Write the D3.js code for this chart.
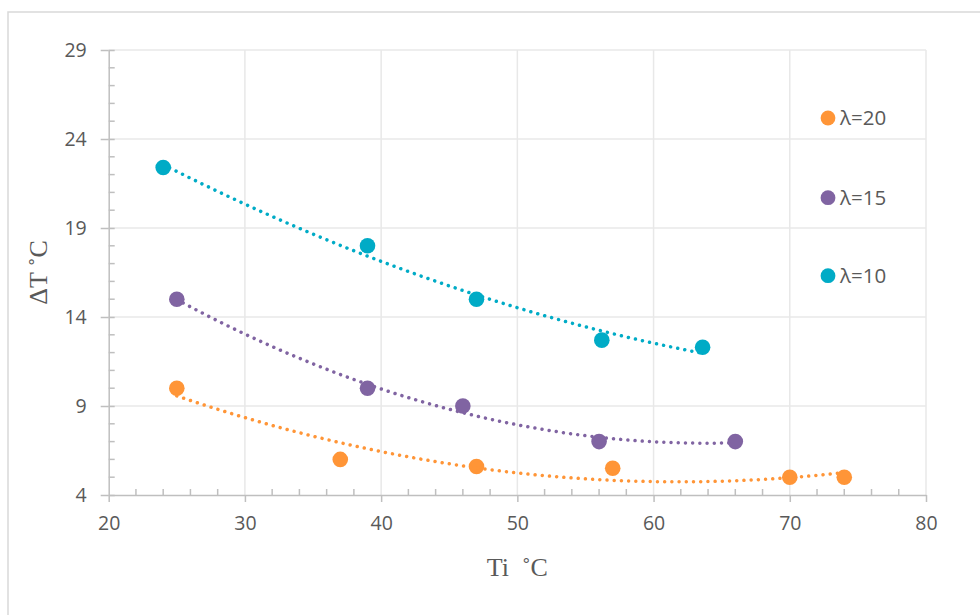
<!DOCTYPE html>
<html>
<head>
<meta charset="utf-8">
<script src="https://cdn.jsdelivr.net/npm/d3@7"></script>
<style>
  html, body { margin: 0; padding: 0; background: #fff; }
  svg { display: block; }
</style>
</head>
<body>
<svg id="chart" width="980" height="615"></svg>
<script>
// ---- Data ----
const seriesNames = ["λ=20", "λ=15", "λ=10"];
const tiL20 = [25, 37, 47, 57, 70, 74];
const dtL20 = [10, 6, 5.6, 5.5, 5, 5];
const tiL15 = [25, 39, 46, 56, 66];
const dtL15 = [15, 10, 9, 7, 7];
const tiL10 = [24, 39, 47, 56.2, 63.6];
const dtL10 = [22.4, 18, 15, 12.7, 12.3];
const xTicks = [20, 30, 40, 50, 60, 70, 80];
const yTicks = [4, 9, 14, 19, 24, 29];
const colors = ["#FF9537", "#8064A2", "#00ABC6"];

const series = [
  { name: seriesNames[0], x: tiL20, y: dtL20, color: colors[0] },
  { name: seriesNames[1], x: tiL15, y: dtL15, color: colors[1] },
  { name: seriesNames[2], x: tiL10, y: dtL10, color: colors[2] }
];

// ---- Layout ----
const svg = d3.select("#chart");
const L = 108.7, R = 926, T = 50, B = 495;
const x = d3.scaleLinear().domain([20, 80]).range([L, R]);
const y = d3.scaleLinear().domain([4, 29]).range([B, T]);

// outer frame
svg.append("rect").attr("x", 8).attr("y", 12).attr("width", 1000).attr("height", 700)
  .attr("fill", "none").attr("stroke", "#d9d9d9").attr("stroke-width", 1.5);

// gridlines
const grid = svg.append("g");
grid.selectAll("line.v").data(xTicks.slice(1)).enter().append("line")
  .attr("x1", d => x(d)).attr("x2", d => x(d)).attr("y1", T).attr("y2", B)
  .attr("stroke", "#e8e8e8").attr("stroke-width", 1.5);
grid.selectAll("line.h").data(yTicks.slice(1)).enter().append("line")
  .attr("x1", L).attr("x2", R).attr("y1", d => y(d)).attr("y2", d => y(d))
  .attr("stroke", "#e8e8e8").attr("stroke-width", 1.5);

const axisColor = "#bfbfbf";
const labelColor = "#595959";
const tickFont = "'Open Sans', sans-serif";

// x axis
const xAxisG = svg.append("g").attr("transform", `translate(0,${B})`)
  .call(d3.axisBottom(x).tickValues(xTicks).tickSize(7).tickSizeOuter(0).tickPadding(14));
const xMinor = d3.range(20, 80, 2).filter(v => v % 10 !== 0);
xAxisG.selectAll("line.minor").data(xMinor).enter().append("line")
  .attr("class", "minor").attr("x1", d => x(d)).attr("x2", d => x(d)).attr("y1", 0).attr("y2", -6);

// y axis
const yAxisG = svg.append("g").attr("transform", `translate(${L},0)`)
  .call(d3.axisLeft(y).tickValues(yTicks).tickSize(8).tickSizeOuter(0).tickPadding(14));
const yMinor = d3.range(4, 29, 1).filter(v => (v - 4) % 5 !== 0);
yAxisG.selectAll("line.minor").data(yMinor).enter().append("line")
  .attr("class", "minor").attr("x1", 0).attr("x2", 6).attr("y1", d => y(d)).attr("y2", d => y(d));
yAxisG.selectAll(".tick").append("line").attr("x1", 0).attr("x2", 6);

[xAxisG, yAxisG].forEach(g => {
  g.select(".domain").attr("stroke", axisColor).attr("stroke-width", 1.5);
  g.selectAll("line").attr("stroke", axisColor).attr("stroke-width", 1.5);
  g.selectAll("text").attr("fill", labelColor).style("font-family", tickFont).style("font-size", "19.5px");
});

// axis titles
svg.append("text").attr("x", (L + R) / 2).attr("y", 576).attr("text-anchor", "middle")
  .style("font-family", "'Liberation Serif', 'Times New Roman', serif").style("font-size", "26px")
  .attr("fill", labelColor).attr("xml:space", "preserve").text("Ti  ˚C");
svg.append("text").attr("transform", `translate(47,${(T + B) / 2}) rotate(-90)`).attr("text-anchor", "middle")
  .style("font-family", "'Liberation Serif', 'Times New Roman', serif").style("font-size", "26px")
  .attr("fill", labelColor).text("ΔT ˚C");

// quadratic least-squares trendline (Excel polynomial order 2)
function polyFit2(xs, ys) {
  let s0 = xs.length, s1 = 0, s2 = 0, s3 = 0, s4 = 0, t0 = 0, t1 = 0, t2 = 0;
  xs.forEach((xi, i) => {
    const yi = ys[i];
    s1 += xi; s2 += xi * xi; s3 += xi ** 3; s4 += xi ** 4;
    t0 += yi; t1 += xi * yi; t2 += xi * xi * yi;
  });
  const M = [[s0, s1, s2, t0], [s1, s2, s3, t1], [s2, s3, s4, t2]];
  for (let i = 0; i < 3; i++) {
    for (let k = i + 1; k < 3; k++) {
      const f = M[k][i] / M[i][i];
      for (let j = i; j < 4; j++) M[k][j] -= f * M[i][j];
    }
  }
  const c = [0, 0, 0];
  for (let i = 2; i >= 0; i--) {
    let s = M[i][3];
    for (let j = i + 1; j < 3; j++) s -= M[i][j] * c[j];
    c[i] = s / M[i][i];
  }
  return v => c[0] + c[1] * v + c[2] * v * v;
}

const line = d3.line().x(d => x(d[0])).y(d => y(d[1]));

series.forEach(s => {
  const pts = s.x.map((v, i) => [v, s.y[i]]);
  svg.append("g").selectAll("circle").data(pts).enter().append("circle")
    .attr("cx", d => x(d[0])).attr("cy", d => y(d[1])).attr("r", 7.8).attr("fill", s.color);
});
series.forEach(s => {
  const f = polyFit2(s.x, s.y);
  const x0 = d3.min(s.x), x1 = d3.max(s.x);
  const samples = d3.range(0, 101).map(i => { const v = x0 + (x1 - x0) * i / 100; return [v, f(v)]; });
  svg.append("path").datum(samples).attr("d", line).attr("fill", "none")
    .attr("stroke", s.color).attr("stroke-width", 3.5)
    .attr("stroke-dasharray", "0.01 7.2").attr("stroke-linecap", "round");
});

// legend
const legendY = [118, 197.7, 275.7];
const lg = svg.append("g");
series.forEach((s, i) => {
  lg.append("circle").attr("cx", 828).attr("cy", legendY[i]).attr("r", 7.4).attr("fill", s.color);
  lg.append("text").attr("x", 840).attr("y", legendY[i]).attr("dy", "0.36em")
    .style("font-family", tickFont).style("font-size", "20.5px").attr("fill", labelColor).text(s.name);
});
</script>
</body>
</html>
